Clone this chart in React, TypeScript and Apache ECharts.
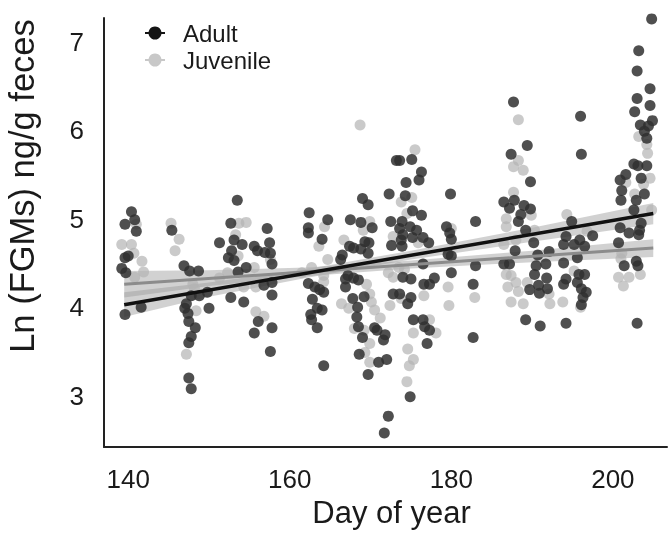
import React, { useEffect, useRef } from 'react';
import * as echarts from 'echarts';

const FONT = '"Liberation Sans", Arial, Helvetica, sans-serif';
const TEXT = '#1a1a1a';

// [day of year, ln(FGMs)]
const adultPoints: number[][] = [
  [140.4,5.08],[140.8,4.99],[139.6,4.94],[141.0,4.86],[139.6,4.56],[140.0,4.58],[139.2,4.44],[139.7,4.39],[139.6,3.92],[141.6,4.00],
  [145.4,4.87],[146.9,4.47],[147.6,4.41],[148.7,4.41],[147.0,3.99],[147.4,3.93],[147.2,4.04],[147.5,3.84],[148.3,3.77],[147.8,3.67],
  [147.5,3.60],[147.5,3.20],[147.8,3.08],[150.0,3.99],[148.8,4.13],[147.8,4.13],[149.8,4.17],
  [153.5,5.21],[152.7,4.95],[153.1,4.76],[154.1,4.71],[151.3,4.73],[152.8,4.64],[152.4,4.56],[153.1,4.53],[154.6,4.45],[153.6,4.40],
  [155.6,4.69],[156.0,4.64],[157.2,4.89],[157.5,4.73],[156.9,4.62],[157.6,4.61],[157.8,4.49],[152.7,4.11],[154.3,4.06],[156.1,3.84],
  [155.6,3.71],[157.8,4.14],[157.8,3.77],[157.6,3.50],[157.8,4.28],[156.8,4.25],
  [162.4,5.07],[164.7,4.99],[162.3,4.90],[162.3,4.84],[164.0,4.77],[167.5,4.99],[168.8,4.96],[170.2,4.90],[169.0,5.23],[169.7,5.16],
  [167.4,4.69],[167.9,4.67],[168.8,4.66],[169.3,4.74],[169.8,4.73],[169.7,4.61],[166.5,4.59],[166.3,4.54],
  [173.2,5.66],[173.6,5.66],[175.1,5.67],[176.3,5.53],[176.0,5.44],[174.4,5.41],[172.3,5.28],[174.3,5.26],[179.9,5.28],[172.5,4.97],
  [173.9,4.97],[175.2,5.09],[176.3,5.04],[174.9,4.91],[175.7,4.87],[173.6,4.89],[174.0,4.82],[173.8,4.76],[172.6,4.70],[173.9,4.69],
  [175.2,4.79],[176.5,4.79],[177.2,4.73],[179.4,4.91],[179.8,4.84],[180.0,4.77],[183.0,4.97],[179.6,4.60],[180.0,4.58],
  [162.3,4.27],[163.1,4.23],[163.7,4.20],[164.2,4.17],[162.8,4.09],[163.4,3.99],[164.0,3.97],[162.6,3.92],[162.7,3.86],[163.4,3.77],
  [164.2,3.34],[166.9,4.32],[167.2,4.36],[167.9,4.33],[168.5,4.31],[166.9,4.23],[167.8,4.10],[169.2,4.12],[168.4,4.00],[168.3,3.89],
  [168.5,3.78],[169.0,3.66],[170.5,3.77],[170.8,3.74],[171.8,3.69],[171.6,3.63],[168.6,3.47],[171.0,3.38],[172.0,3.41],[169.7,3.24],
  [172.8,4.15],[173.6,4.15],[174.0,4.34],[175.0,4.32],[175.0,4.11],[174.6,4.04],[175.3,3.86],[176.5,3.86],[176.7,3.78],[177.3,3.74],
  [177.0,3.59],[176.6,4.26],[177.3,4.26],[177.9,4.33],[180.0,4.39],[182.7,4.26],[182.7,3.66],[174.9,2.99],[172.2,2.77],[171.7,2.58],
  [176.5,4.49],[183.0,4.47],
  [204.8,7.26],[203.2,6.90],[203.0,6.67],[204.6,6.47],[203.0,6.36],[204.6,6.28],[202.7,6.21],[204.9,6.11],[203.4,6.06],[204.4,6.05],
  [203.9,5.99],[204.2,5.91],[187.7,6.32],[196.0,6.16],[189.4,5.83],[187.4,5.73],[196.1,5.73],[189.8,5.42],[202.6,5.62],[203.1,5.60],
  [204.2,5.60],[201.6,5.50],[200.9,5.44],[203.5,5.46],
  [201.1,5.32],[201.0,5.21],[203.9,5.28],[202.9,5.21],[186.5,5.19],[187.2,5.12],[187.8,5.21],[189.0,5.15],[189.8,5.11],[188.6,5.05],
  [188.3,4.97],[189.2,4.87],[190.2,4.73],[187.9,4.64],[186.5,4.49],[187.2,4.49],[190.7,4.59],[192.1,4.63],[190.5,4.47],[191.7,4.49],
  [190.3,4.37],[191.8,4.33],[190.8,4.25],[190.9,4.16],[189.7,4.20],[191.9,4.21],[189.2,3.86],[191.0,3.79],[194.9,4.97],[194.2,4.80],
  [193.9,4.71],[195.2,4.71],[195.9,4.76],[196.5,4.69],[197.5,4.81],[193.9,4.50],[195.6,4.56],[195.8,4.37],[196.5,4.37],[193.9,4.26],
  [194.2,4.32],[195.6,4.28],[196.1,4.21],[196.7,4.17],[196.3,4.11],[196.1,4.03],[194.2,3.82],[203.0,3.82],[200.9,4.90],[202.0,4.84],
  [203.3,4.87],[203.2,4.82],[202.6,5.10],[203.5,4.95],[201.4,4.47],[202.9,4.52],[203.1,4.47],[200.7,4.73]
];

const juvenilePoints: number[][] = [
  [141.0,4.94],[139.2,4.71],[140.4,4.71],[140.7,4.61],[141.7,4.52],[141.9,4.40],[145.3,4.95],[146.3,4.77],[145.8,4.64],[153.7,4.95],
  [154.6,4.96],[153.3,4.82],[153.6,4.58],[155.6,4.45],[157.6,4.54],
  [140.8,4.34],[148.4,3.96],[147.2,3.47],[155.8,3.95],[156.8,3.90],[151.3,4.33],[152.3,4.39],[155.8,4.23],[148.2,4.21],[148.0,4.26],
  [154.3,4.23],
  [168.7,6.06],[175.5,5.78],[173.8,5.19],[175.1,5.24],[174.5,5.06],[164.3,4.91],[169.9,4.97],[169.1,4.87],[166.7,4.76],[163.6,4.69],
  [172.8,4.80],[175.9,4.73],[164.7,4.54],[180.0,4.89],
  [164.2,4.29],[166.4,4.04],[167.3,3.99],[169.5,4.26],[169.9,4.15],[170.1,4.06],[170.5,3.97],[171.2,3.88],[168.0,3.76],[169.2,3.74],
  [169.9,3.59],[169.3,3.49],[169.9,3.38],[172.4,4.02],[172.8,4.34],[173.8,4.10],[175.3,3.71],[174.6,3.53],[175.3,3.41],[174.8,3.34],
  [174.5,3.16],[177.3,3.86],[178.1,3.71],[176.6,4.13],[179.6,4.23],[179.7,4.02],[182.9,4.11],
  [174.2,4.43],[173.5,4.45],[172.2,4.39],[162.7,4.45],[164.2,4.36],[161.5,4.39],
  [188.3,6.12],[188.3,5.66],[187.7,5.59],[188.9,5.55],[203.2,5.93],[204.2,5.84],[204.3,5.74],[204.6,5.46],[203.8,5.39],[201.6,5.41],
  [187.7,5.30],[186.8,5.00],[189.9,5.04],[186.5,4.71],[188.0,4.76],[190.3,4.87],[186.8,4.37],[187.4,4.36],[188.0,4.28],[187.0,4.23],
  [189.4,4.28],[188.3,4.18],[187.4,4.06],[188.9,4.04],[192.2,4.04],[192.1,4.15],[193.8,4.06],[194.3,5.05],[196.0,4.00],[195.2,4.41],
  [196.8,4.86],[200.7,4.34],[201.3,4.24],[202.0,4.34],[203.4,4.37],[204.8,5.10],[202.7,5.28],[201.1,4.61],[186.8,4.91],[201.0,4.55]
];

// fitted lines (end points) and confidence bands
const adultLine: number[][] = [[139.5, 4.03], [205, 5.06]];
const juvenileLine: number[][] = [[139.5, 4.26], [205, 4.67]];
const bandDays: number[] = [139.5, 150, 162, 175, 190, 205];
const adultLower: number[] = [3.89, 4.12, 4.33, 4.54, 4.74, 4.94];
const adultUpper: number[] = [4.17, 4.28, 4.43, 4.64, 4.90, 5.18];
const juvLower: number[] = [4.11, 4.24, 4.35, 4.44, 4.51, 4.57];
const juvUpper: number[] = [4.41, 4.42, 4.45, 4.53, 4.64, 4.77];

function bandSeries(name: string, lower: number[], upper: number[]) {
  return {
    type: 'custom',
    name,
    coordinateSystem: 'cartesian2d',
    silent: true,
    clip: false,
    data: [[bandDays[0], lower[0]]],
    renderItem: (_params: any, api: any) => {
      const up = bandDays.map((d, i) => api.coord([d, upper[i]]));
      const lo = bandDays.map((d, i) => api.coord([d, lower[i]])).reverse();
      return {
        type: 'polygon',
        shape: { points: up.concat(lo) },
        style: { fill: '#9a9a9a', opacity: 0.45 },
        silent: true,
      };
    },
  };
}

export default function App() {
  const ref = useRef<HTMLDivElement>(null);
  useEffect(() => {
    if (!ref.current) return;
    const chart = echarts.init(ref.current, null, { renderer: 'svg' });
    chart.setOption({
      animation: false,
      grid: { left: 104, top: 18, right: 0, bottom: 78, containLabel: false },
      legend: {
        orient: 'vertical',
        left: 140,
        top: 16,
        itemWidth: 20,
        itemHeight: 13,
        itemGap: 3,
        icon: 'path://M0,5.5H20V7.5H0Z M10,0A6.5,6.5,0,1,1,9.99,0Z',
        textStyle: { fontSize: 24, fontFamily: FONT, color: TEXT, padding: [0, 0, 0, 13] },
        data: [
          { name: 'Adult', itemStyle: { color: '#141414', opacity: 1 } },
          { name: 'Juvenile', itemStyle: { color: '#c8c8c8', opacity: 1 } },
        ],
      },
      xAxis: {
        type: 'value',
        min: 137,
        max: 206.7,
        minInterval: 20,
        maxInterval: 20,
        axisLine: { show: true, onZero: false, lineStyle: { color: '#222', width: 2 } },
        axisTick: { show: false },
        splitLine: { show: false },
        axisLabel: {
          fontSize: 26,
          fontFamily: FONT,
          color: TEXT,
          margin: 19,
          formatter: (v: number) => (v % 20 === 0 ? String(v) : ''),
        },
        name: 'Day of year',
        nameLocation: 'middle',
        nameGap: 30,
        nameTextStyle: { fontSize: 31, fontFamily: FONT, color: TEXT, padding: [0, 0, 0, 12] },
      },
      yAxis: {
        type: 'value',
        min: 2.42,
        max: 7.27,
        minInterval: 1,
        maxInterval: 1,
        axisLine: { show: true, onZero: false, lineStyle: { color: '#222', width: 2 } },
        axisTick: { show: false },
        splitLine: { show: false },
        axisLabel: {
          fontSize: 26,
          fontFamily: FONT,
          color: TEXT,
          margin: 20,
          formatter: (v: number) => (Math.abs(v - Math.round(v)) < 1e-9 ? String(Math.round(v)) : ''),
        },
      },
      graphic: [
        {
          type: 'text',
          x: 22,
          y: 186,
          rotation: Math.PI / 2,
          style: {
            text: 'Ln (FGMs) ng/g feces',
            fontSize: 34.5,
            fontFamily: FONT,
            fill: TEXT,
            align: 'center',
            verticalAlign: 'middle',
          },
        },
      ],
      series: [
        {
          type: 'scatter',
          name: 'Juvenile',
          data: juvenilePoints,
          symbolSize: 11,
          clip: false,
          itemStyle: { color: '#b3b3b3', opacity: 0.7 },
        },
        {
          type: 'scatter',
          name: 'Adult',
          data: adultPoints,
          symbolSize: 11,
          clip: false,
          itemStyle: { color: '#303030', opacity: 0.85 },
        },
        bandSeries('Adult band', adultLower, adultUpper),
        bandSeries('Juvenile band', juvLower, juvUpper),
        {
          type: 'line',
          name: 'Juvenile fit',
          data: juvenileLine,
          symbol: 'none',
          lineStyle: { color: '#8c8c8c', width: 3 },
        },
        {
          type: 'line',
          name: 'Adult fit',
          data: adultLine,
          symbol: 'none',
          lineStyle: { color: '#111111', width: 3.5 },
        },
      ],
    });
    return () => chart.dispose();
  }, []);
  return (
    <div
      ref={ref}
      style={{ position: 'fixed', left: 0, top: 0, width: 670, height: 533 }}
    />
  );
}
